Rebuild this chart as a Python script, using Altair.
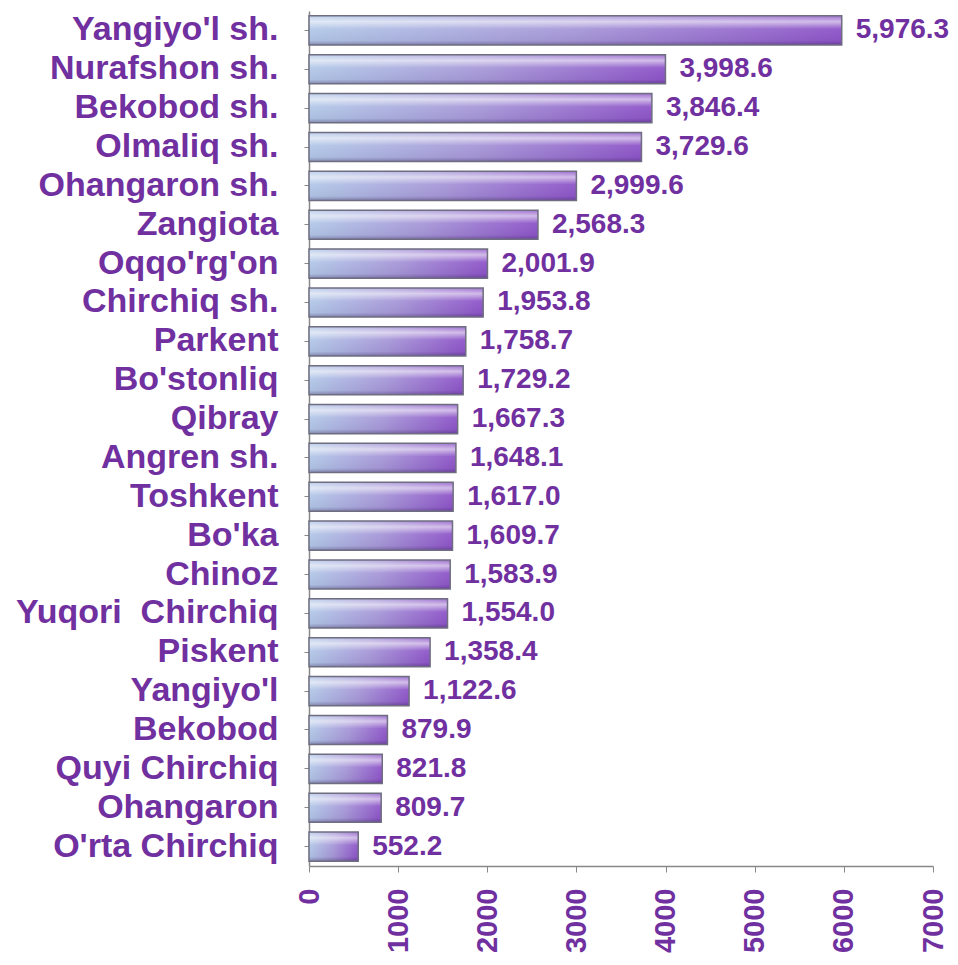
import altair as alt
import pandas as pd

names = ["Yangiyo'l sh.", "Nurafshon sh.", "Bekobod sh.", "Olmaliq sh.", "Ohangaron sh.",
         "Zangiota", "Oqqo'rg'on", "Chirchiq sh.", "Parkent", "Bo'stonliq", "Qibray",
         "Angren sh.", "Toshkent", "Bo'ka", "Chinoz", "Yuqori\u00a0 Chirchiq", "Piskent",
         "Yangiyo'l", "Bekobod", "Quyi Chirchiq", "Ohangaron", "O'rta Chirchiq"]
values = [5976.3, 3998.6, 3846.4, 3729.6, 2999.6, 2568.3, 2001.9, 1953.8, 1758.7, 1729.2,
          1667.3, 1648.1, 1617.0, 1609.7, 1583.9, 1554.0, 1358.4, 1122.6, 879.9, 821.8,
          809.7, 552.2]
x_ticks = [0, 1000, 2000, 3000, 4000, 5000, 6000, 7000]

df = pd.DataFrame({"name": names, "value": values})

PURPLE = "#7030A0"
FONT = "Liberation Sans"

y_enc = alt.Y("name:N", sort=None, title=None,
              scale=alt.Scale(paddingInner=0.25, paddingOuter=0.125),
              axis=alt.Axis(labelFont=FONT, labelFontSize=34, labelFontWeight="bold",
                            labelColor=PURPLE, labelPadding=26, tickSize=5,
                            tickColor="#888888", domainColor="#888888", domainWidth=1.5,
                            minExtent=301, maxExtent=301, labelLimit=400))
x_enc = alt.X("value:Q", title=None,
              scale=alt.Scale(domain=[0, 7000], nice=False),
              axis=alt.Axis(values=x_ticks, format="d", labelAngle=270, labelFont=FONT,
                            labelFontSize=29, labelFontWeight="bold", labelColor=PURPLE,
                            labelPadding=16, tickSize=6, tickColor="#888888",
                            domainColor="#888888", domainWidth=1.5, grid=False,
                            labelFlush=False, labelOverlap=False))

base_grad = alt.Gradient(gradient="linear", x1=0, x2=1, y1=0, y2=0,
                         stops=[alt.GradientStop(offset=0, color="#B3C9E8"),
                                alt.GradientStop(offset=0.5, color="#A798D8"),
                                alt.GradientStop(offset=1, color="#8E55C8")])
bevel_grad = alt.Gradient(gradient="linear", x1=0, x2=0, y1=0, y2=1,
                          stops=[alt.GradientStop(offset=0, color="rgba(255,255,255,0.15)"),
                                 alt.GradientStop(offset=0.2, color="rgba(255,255,255,0.6)"),
                                 alt.GradientStop(offset=0.45, color="rgba(255,255,255,0.05)"),
                                 alt.GradientStop(offset=0.85, color="rgba(40,20,70,0.05)"),
                                 alt.GradientStop(offset=1, color="rgba(40,20,70,0.35)")])

bars = alt.Chart(df).mark_bar(color=base_grad).encode(x=x_enc, y=y_enc)
bevel = alt.Chart(df).mark_bar(color=bevel_grad, stroke="#6E6E80", strokeWidth=1.5).encode(
    x=x_enc, y=y_enc)
labels = alt.Chart(df).mark_text(align="left", baseline="middle", dx=14, font=FONT,
                                 fontSize=28, fontWeight="bold", color=PURPLE).encode(
    x=x_enc, y=y_enc, text=alt.Text("value:Q", format=",.1f"))

chart = (bars + bevel + labels).properties(
    width=624, height=855,
    padding={"left": 0, "top": 3, "right": 0, "bottom": 0}
).configure_view(stroke=None)

chart.save("out.html", embed_options={"renderer": "svg", "actions": False})
